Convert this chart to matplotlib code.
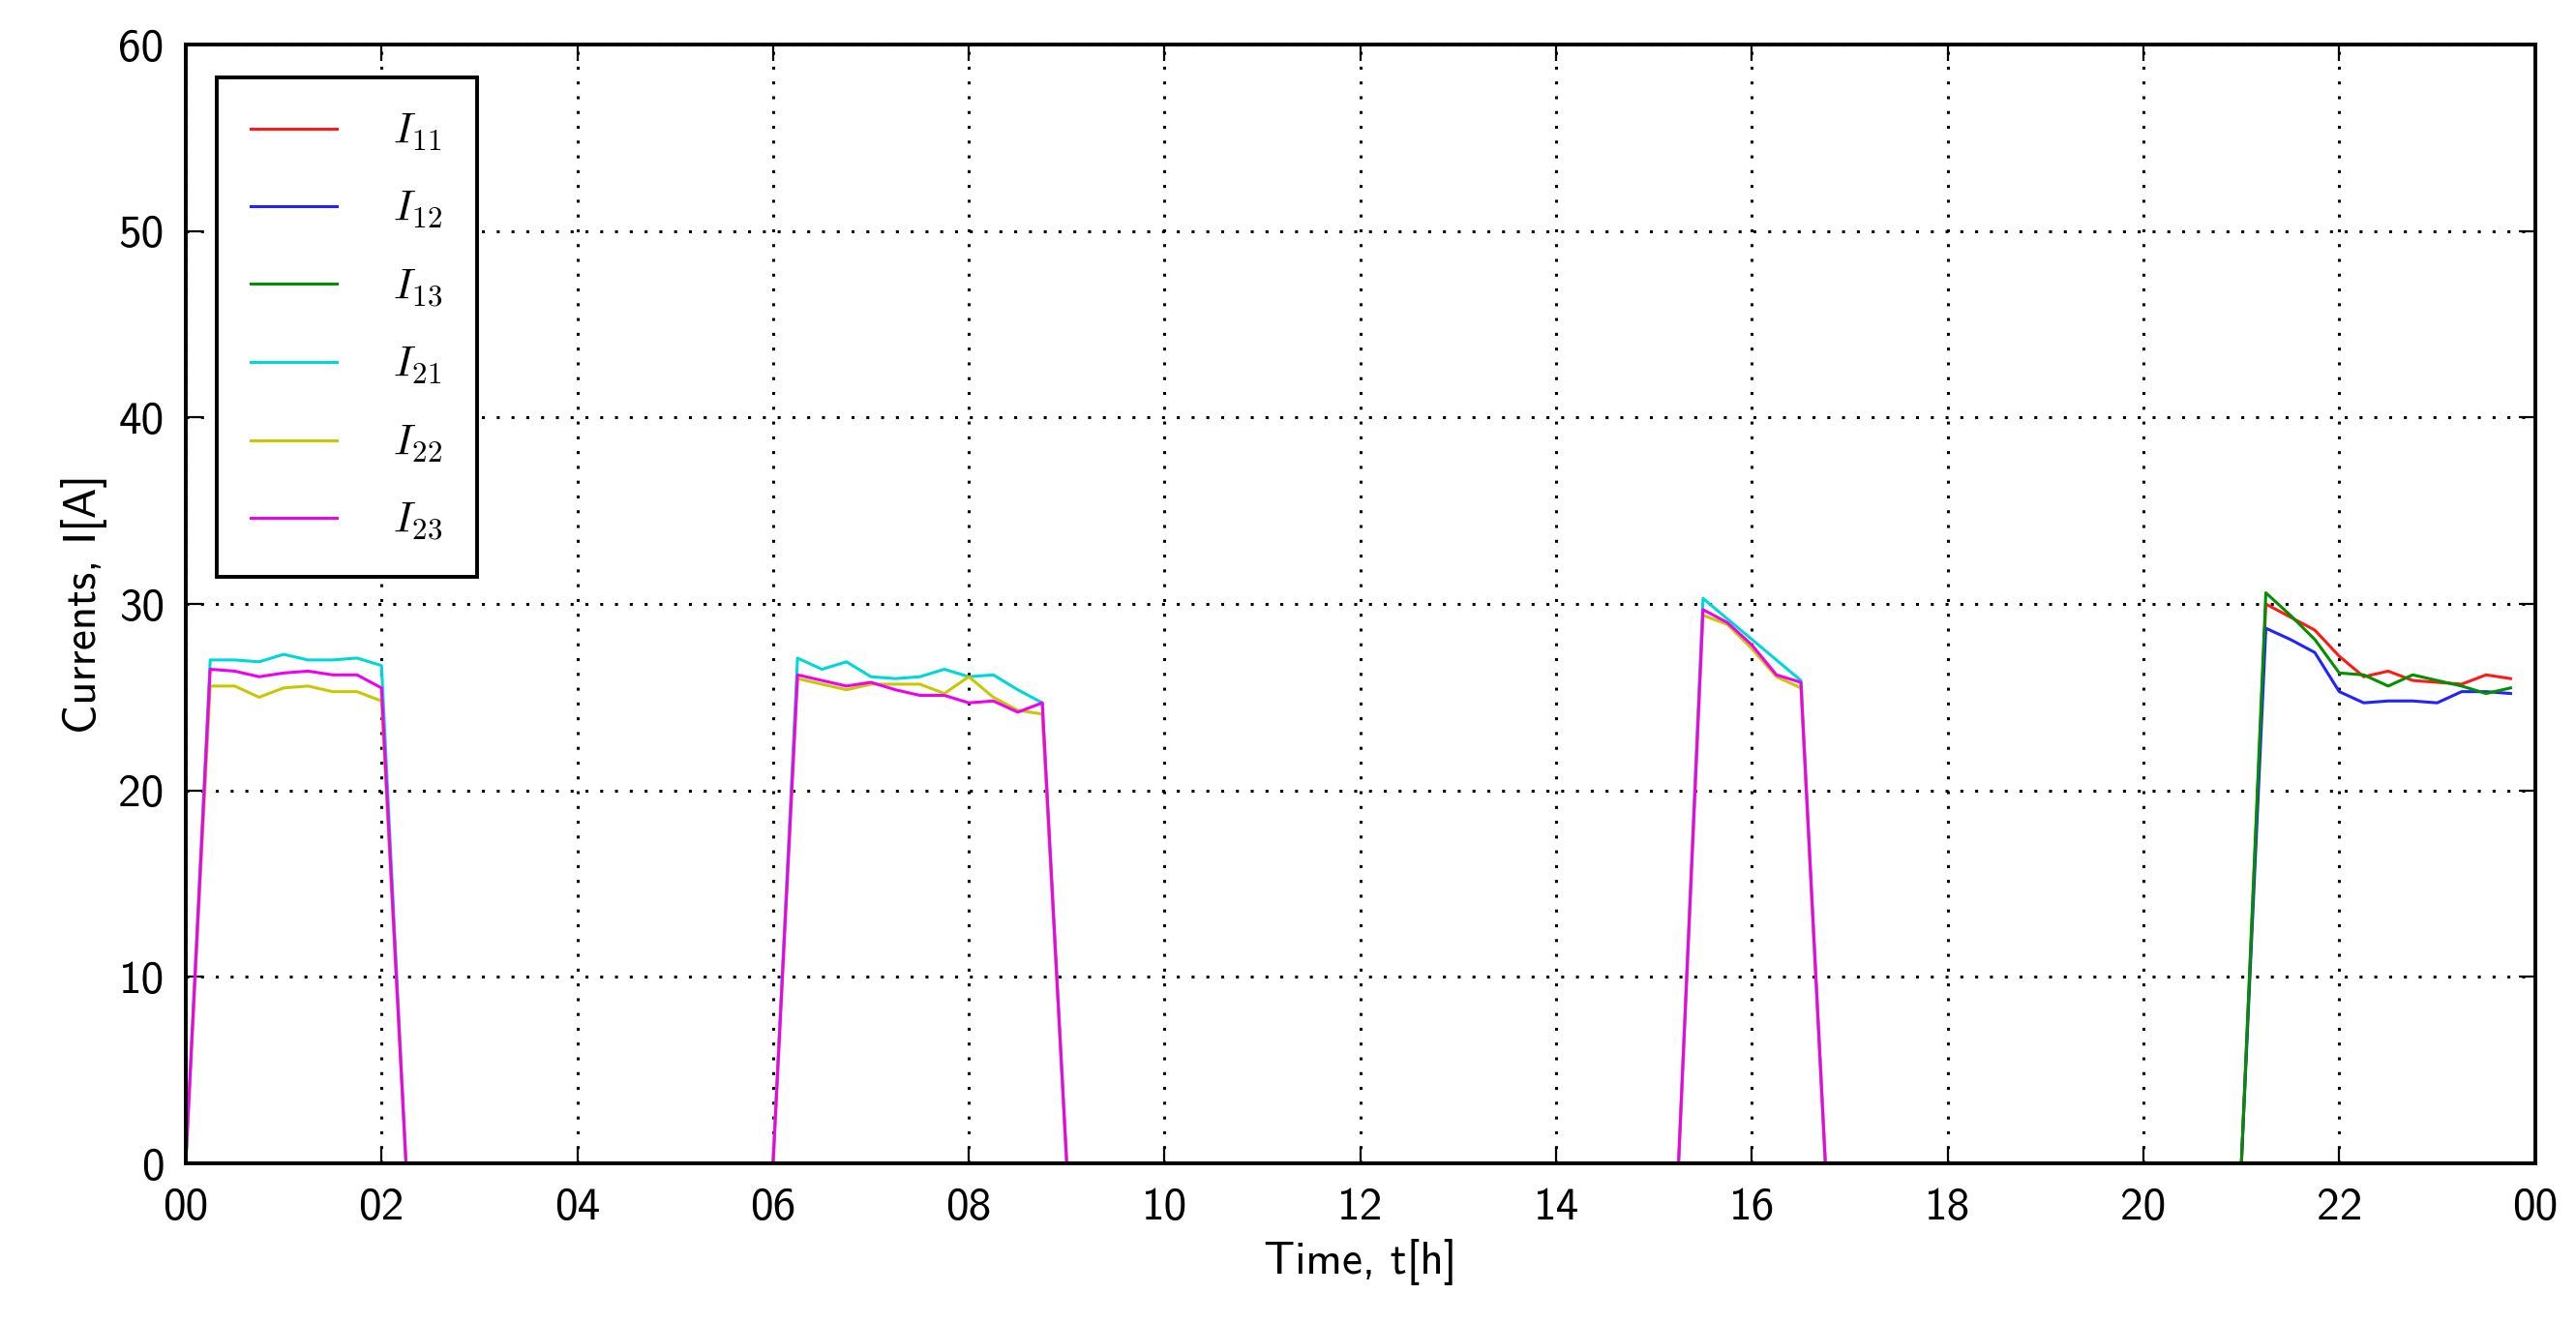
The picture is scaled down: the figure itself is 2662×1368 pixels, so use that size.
import matplotlib
matplotlib.use("Agg")
import matplotlib.pyplot as plt

# times (hours) of samples for each group
t_a = [0.0, 0.25, 0.5, 0.75, 1.0, 1.25, 1.5, 1.75, 2.0, 2.25,
       6.0, 6.25, 6.5, 6.75, 7.0, 7.25, 7.5, 7.75, 8.0, 8.25, 8.5, 8.75, 9.0,
       15.25, 15.5, 15.75, 16.0, 16.25, 16.5, 16.75, 23.75]
t_b = [0.0, 21.0, 21.25, 21.5, 21.75, 22.0, 22.25, 22.5, 22.75, 23.0, 23.25, 23.5, 23.75]

I11 = [0, 0, 30.0, 29.3, 28.6, 27.2, 26.1, 26.4, 25.9, 25.8, 25.7, 26.2, 26.0]
I12 = [0, 0, 28.7, 28.1, 27.4, 25.3, 24.7, 24.8, 24.8, 24.7, 25.3, 25.3, 25.2]
I13 = [0, 0, 30.6, 29.4, 28.1, 26.3, 26.2, 25.6, 26.2, 25.9, 25.6, 25.2, 25.5]

I21 = [0, 27.0, 27.0, 26.9, 27.3, 27.0, 27.0, 27.1, 26.7, 0,
       0, 27.1, 26.5, 26.9, 26.1, 26.0, 26.1, 26.5, 26.1, 26.2, 25.4, 24.7, 0,
       0, 30.3, 29.2, 28.1, 27.0, 25.9, 0, 0]
I22 = [0, 25.6, 25.6, 25.0, 25.5, 25.6, 25.3, 25.3, 24.8, 0,
       0, 26.0, 25.7, 25.4, 25.7, 25.7, 25.7, 25.2, 26.1, 25.0, 24.3, 24.1, 0,
       0, 29.4, 28.9, 27.6, 26.1, 25.5, 0, 0]
I23 = [0, 26.5, 26.4, 26.1, 26.3, 26.4, 26.2, 26.2, 25.5, 0,
       0, 26.2, 25.9, 25.6, 25.8, 25.4, 25.1, 25.1, 24.7, 24.8, 24.2, 24.7, 0,
       0, 29.7, 29.0, 27.8, 26.2, 25.8, 0, 0]

xticks = list(range(0, 25, 2))
xticklabels = ["00", "02", "04", "06", "08", "10", "12", "14", "16", "18", "20", "22", "00"]

plt.rcParams['font.family'] = ['cmss10', 'DejaVu Sans']
plt.rcParams['mathtext.fontset'] = 'cm'
plt.rcParams['axes.unicode_minus'] = False

fig = plt.figure(figsize=(13.31, 6.84), dpi=200)
ax = fig.add_axes([0.0721, 0.1213, 0.912, 0.8450])

series = [(t_b, I11, '#ff1a1a', r'$I_{11}$'), (t_b, I12, '#2222ff', r'$I_{12}$'),
          (t_b, I13, '#009000', r'$I_{13}$'),
          (t_a, I21, '#00d8d8', r'$I_{21}$'), (t_a, I22, '#c8c800', r'$I_{22}$'),
          (t_a, I23, '#f000f0', r'$I_{23}$')]
for t, v, c, lab in series:
    ax.plot(t, v, color=c, lw=1.1, label=lab)

ax.set_xlim(0, 24)
ax.set_ylim(0, 60)
ax.set_xticks(xticks)
ax.set_xticklabels(xticklabels)
ax.set_yticks(range(0, 61, 10))
ax.tick_params(labelsize=17, direction='in', length=6, top=True, right=True)
ax.tick_params(axis='x', pad=9)
ax.tick_params(axis='y', pad=8)
ax.grid(True, color='black', linestyle=(0, (1, 4)), linewidth=1.1)
for s in ax.spines.values():
    s.set_linewidth(1.4)
ax.set_xlabel('Time, t[h]', fontsize=17)
ax.set_ylabel('Currents, I[A]', fontsize=17)

leg = ax.legend(loc='upper left', fontsize=16, handlelength=2.0, labelspacing=0.85,
                borderpad=0.8, handletextpad=1.3, fancybox=False, framealpha=1,
                bbox_to_anchor=(0.004, 0.99))
leg.get_frame().set_edgecolor('black')
leg.get_frame().set_linewidth(1.4)

fig.savefig('out.png', dpi=200)
